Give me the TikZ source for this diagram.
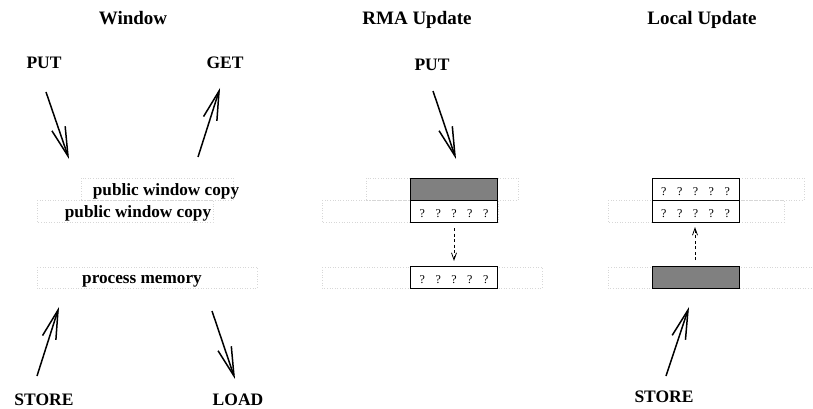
\documentclass[tikz,border=0pt]{standalone}
\usepackage{fontspec}
\setmainfont{Liberation Serif}
\usetikzlibrary{arrows.meta}
\definecolor{fillgray}{RGB}{128,128,128}
\definecolor{ghostgray}{RGB}{215,215,215}
\newcommand{\qmarks}{\fontsize{12}{14}\selectfont ?\hspace{10.5pt}?\hspace{10.5pt}?\hspace{10.5pt}?\hspace{10.5pt}?}
\begin{document}
\begin{tikzpicture}[x=1pt,y=-1pt,
  lbl/.style={font=\fontsize{17.5}{20}\selectfont\bfseries, anchor=base, inner sep=0pt},
  ttl/.style={font=\fontsize{19}{22}\selectfont\bfseries, anchor=base, inner sep=0pt},
  mem/.style={font=\fontsize{17.2}{20}\selectfont\bfseries, anchor=base, inner sep=0pt},
  ghost/.style={draw=ghostgray, dotted, line width=0.6pt},
  cell/.style={draw=black, line width=0.8pt, fill=white, minimum width=87pt, minimum height=22pt,
    inner sep=0pt, text height=12pt, text depth=0pt},
  shaded/.style={cell, fill=fillgray},
  bigarrow/.style={line width=1.5pt, -{Straight Barb[length=29pt,width=14pt,line width=1.5pt]}},
  dasharrow/.style={line width=0.8pt, dash pattern=on 3pt off 2.5pt,
    -{Straight Barb[length=7pt,width=5pt,line width=0.8pt]}}
]
\clip (0,0) rectangle (813,409);

% ghost (dotted) outlines
\foreach \s in {0,285,571}{
  \draw[ghost] (81+\s,178) rectangle (233+\s,200);
  \draw[ghost] (37+\s,200) rectangle (213+\s,222);
  \draw[ghost] (37+\s,267) rectangle (257+\s,288);
}

% titles
\node[ttl] (t1) at (133,25) {Window};
\node[ttl] (t2) at (417,25) {RMA Update};
\node[ttl] (t3) at (702,25) {Local Update};

% ---------- left panel ----------
\node[lbl] (put1) at (44,69) {PUT};
\node[lbl] (get1) at (225,69) {GET};
\node[lbl] (store1) at (44,405.5) {STORE};
\node[lbl] (load1) at (238,405.5) {LOAD};
\node[mem] (pwc1) at (166,195) {public window copy};
\node[mem] (pwc2) at (138,217) {public window copy};
\node[mem] (pm) at (142,283) {process memory};

\coordinate (a1s) at (46,92);   \coordinate (a1e) at (69,159);
\coordinate (a2s) at (198,157); \coordinate (a2e) at (220,88);
\coordinate (a3s) at (37,376);  \coordinate (a3e) at (59,307);
\coordinate (a4s) at (212,311); \coordinate (a4e) at (235,379);
\draw[bigarrow] (a1s) -- (a1e);
\draw[bigarrow] (a2s) -- (a2e);
\draw[bigarrow] (a3s) -- (a3e);
\draw[bigarrow] (a4s) -- (a4e);

% ---------- middle panel ----------
\node[lbl] (put2) at (432,71) {PUT};
\coordinate (b1s) at (433,91); \coordinate (b1e) at (456,159);
\draw[bigarrow] (b1s) -- (b1e);
\node[shaded] (mtop) at (454,189) {};
\node[cell] (mmid) at (454,211) {\qmarks};
\node[cell] (mbot) at (454,277.5) {\qmarks};
\coordinate (d1s) at (454,228); \coordinate (d1e) at (454,261);
\draw[dasharrow] (d1s) -- (d1e);

% ---------- right panel ----------
\node[cell] (rtop) at (695.5,189) {\qmarks};
\node[cell] (rmid) at (695.5,211) {\qmarks};
\node[shaded] (rbot) at (695.5,277.5) {};
\coordinate (d2s) at (695,260); \coordinate (d2e) at (695,227);
\draw[dasharrow] (d2s) -- (d2e);
\node[lbl] (store2) at (664,402) {STORE};
\coordinate (c1s) at (666,376); \coordinate (c1e) at (689,307);
\draw[bigarrow] (c1s) -- (c1e);
\end{tikzpicture}
\end{document}
